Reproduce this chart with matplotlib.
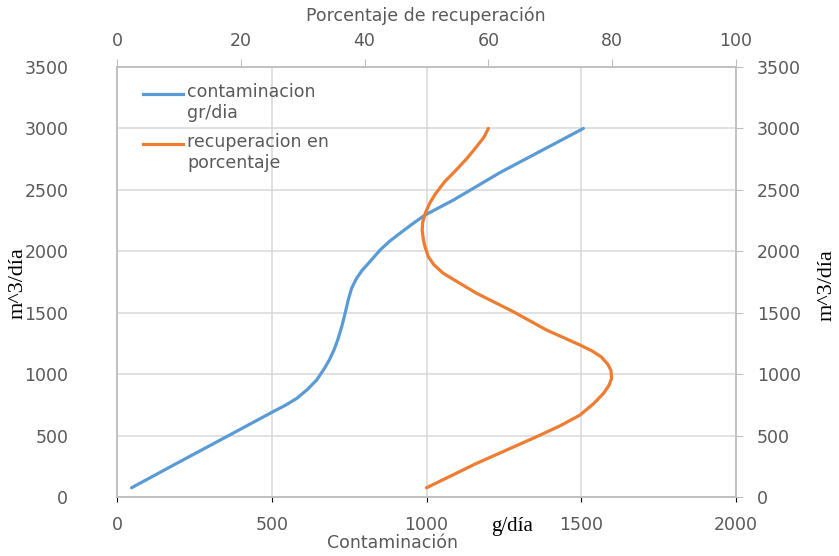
import matplotlib.pyplot as plt
from matplotlib.lines import Line2D

# contaminacion (g/dia) vs caudal m^3/dia
cont_x = [47, 193, 354, 498, 545, 581, 615, 645, 667, 686, 701, 713, 726, 737, 747, 758, 774,
          792, 817, 850, 880, 914, 953, 995, 1087, 1237, 1507]
cont_y = [75, 274, 491, 686, 748, 803, 875, 952, 1034, 1115, 1196, 1278, 1386, 1495, 1603, 1699, 1780,
          1845, 1915, 2010, 2080, 2146, 2220, 2295, 2417, 2640, 3000]

# recuperacion en porcentaje vs caudal
rec_x = [50.0, 58.1, 67.8, 71.6, 74.8, 77.0, 78.6, 79.5, 79.9, 79.8, 79.3, 78.2, 76.7, 74.8, 69.4,
         64.0, 58.1, 55.2, 52.7, 51.2, 50.3, 49.8, 49.5, 49.3, 49.4, 49.8, 50.5, 51.5, 53.0, 54.8,
         56.6, 58.1, 59.3, 60.0]
rec_y = [75, 274, 491, 580, 667, 760, 844, 910, 966, 1030, 1080, 1142, 1190, 1237, 1359,
         1509, 1658, 1745, 1821, 1890, 1956, 2030, 2092, 2173, 2240, 2309, 2390, 2472, 2570, 2662,
         2760, 2852, 2930, 3000]

x_ticks = [0, 500, 1000, 1500, 2000]
top_ticks = [0, 20, 40, 60, 80, 100]
y_ticks = [0, 500, 1000, 1500, 2000, 2500, 3000, 3500]

blue = '#5B9BD5'
orange = '#ED7D31'
grey_txt = '#595959'
grid_c = '#D9D9D9'

plt.rcParams['font.family'] = 'DejaVu Sans'

fig = plt.figure(figsize=(8.39, 5.56), dpi=100)
ax = fig.add_axes([117 / 839, 59 / 556, 619 / 839, 430 / 556])

ax.plot(cont_x, cont_y, color=blue, lw=2.3, solid_joinstyle='round', solid_capstyle='round', zorder=3)
ax.set_xlim(0, 2000)
ax.set_ylim(0, 3500)
ax.set_xticks(x_ticks)
ax.set_yticks(y_ticks)
ax.grid(True, color=grid_c, lw=1.1)
ax.set_axisbelow(True)
ax.tick_params(axis='x', bottom=False, labelsize=12.5, labelcolor=grey_txt, pad=10)
ax.tick_params(axis='y', left=False, right=True, labelright=True, labelleft=True, direction='out',
               length=5, color='#BFBFBF', labelsize=12.5, labelcolor=grey_txt, pad=10)

ax2 = ax.twiny()
ax2.plot(rec_x, rec_y, color=orange, lw=2.3, solid_joinstyle='round', solid_capstyle='round', zorder=3)
ax2.set_xlim(0, 100)
ax2.set_xticks(top_ticks)
ax2.tick_params(axis='x', direction='out', length=6, color='#BFBFBF', labelsize=12.5,
                labelcolor=grey_txt, pad=6)

for a in (ax, ax2):
    for s in a.spines.values():
        s.set_color('#BFBFBF')
        s.set_linewidth(1.1)

# left tick labels sit further from the axis than the right ones
for t in ax.yaxis.get_major_ticks():
    t.label1.set_x(-0.045)

# legend, drawn by hand so the line sits on the first text line
ax.add_line(Line2D([0.042, 0.1066], [0.937, 0.937], transform=ax.transAxes, color=blue, lw=2.3))
ax.add_line(Line2D([0.042, 0.1066], [0.821, 0.821], transform=ax.transAxes, color=orange, lw=2.3))
ax.text(0.113, 0.963, 'contaminacion\ngr/dia', transform=ax.transAxes, va='top', ha='left',
        fontsize=12.5, color=grey_txt, linespacing=1.2)
ax.text(0.113, 0.847, 'recuperacion en\nporcentaje', transform=ax.transAxes, va='top', ha='left',
        fontsize=12.5, color=grey_txt, linespacing=1.2)

fig.text(426 / 839, 1 - 16 / 556, 'Porcentaje de recuperación', ha='center', va='center',
         fontsize=12.5, color=grey_txt)
fig.text(393 / 839, 1 - 543 / 556, 'Contaminación', ha='center', va='center',
         fontsize=12.5, color=grey_txt)
fig.text(512 / 839, 1 - 527 / 556, 'g/día', ha='center', va='center',
         fontsize=15, family='Liberation Serif', color='black')
fig.text(18 / 839, 1 - 283 / 556, 'm^3/día', ha='center', va='center', rotation=90,
         fontsize=16, family='Liberation Serif', color='black')
fig.text(827 / 839, 1 - 285 / 556, 'm^3/día', ha='center', va='center', rotation=90,
         fontsize=16, family='Liberation Serif', color='black')

fig.savefig('out.png', dpi=100)
